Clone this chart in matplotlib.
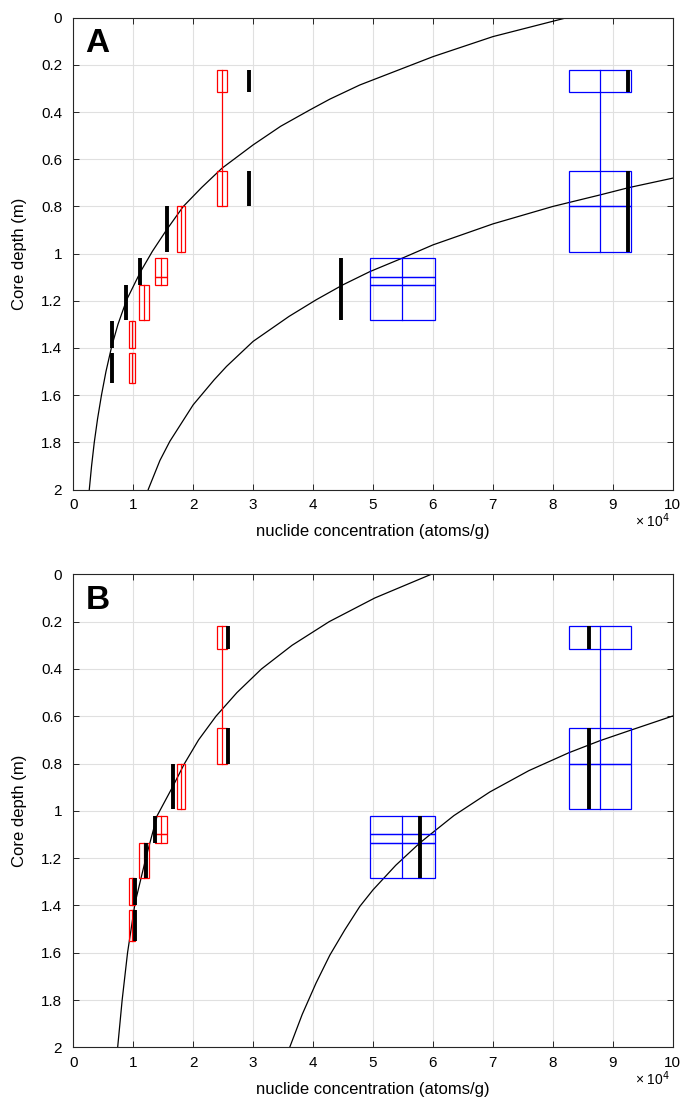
import matplotlib
matplotlib.use("Agg")
import matplotlib.pyplot as plt
from matplotlib.patches import Rectangle
import numpy as np

plt.rcParams['font.family'] = ['Liberation Sans', 'DejaVu Sans']

# sample depth intervals (m)
depth_top = [0.22, 0.65, 0.80, 1.02, 1.098, 1.135, 1.285, 1.42]
depth_bot = [0.315, 0.80, 0.993, 1.098, 1.135, 1.283, 1.40, 1.55]

# measured concentrations, individual samples (x 10^4 atoms/g)
meas_conc = [2.48, 2.48, 1.80, 1.467, 1.467, 1.183, 0.983, 0.983]
meas_err = [0.078, 0.078, 0.072, 0.10, 0.10, 0.083, 0.05, 0.05]
meas_group = [0, 0, 1, 2, 2, 3, 4, 5]

# amalgamated samples
amal_conc = [8.79, 8.79, 8.79, 5.49, 5.49, 5.49, np.nan, np.nan]
amal_err = [0.52, 0.52, 0.52, 0.54, 0.54, 0.54, np.nan, np.nan]
amal_group = [0, 0, 0, 1, 1, 1, -1, -1]

# modelled concentrations per panel
modA_meas = [2.93, 2.93, 1.557, 1.117, 1.117, 0.883, 0.645, 0.645]
modA_amal = [9.25, 9.25, 9.25, 4.46, 4.46, 4.46, np.nan, np.nan]
modB_meas = [2.58, 2.58, 1.657, 1.367, 1.367, 1.217, 1.03, 1.03]
modB_amal = [8.60, 8.60, 8.60, 5.78, 5.78, 5.78, np.nan, np.nan]

# model profiles (conc, depth)
curveA1_x = [8.23, 7.0, 6.0, 4.78, 4.28, 3.945, 3.46, 3.0, 2.48, 2.14, 1.835, 1.557, 1.32,
             1.123, 0.89, 0.745, 0.64, 0.545, 0.47, 0.405, 0.35, 0.305, 0.267]
curveA1_z = [0.0, 0.080, 0.165, 0.285, 0.345, 0.391, 0.46, 0.539, 0.638, 0.72, 0.80, 0.899, 0.99,
             1.076, 1.196, 1.30, 1.394, 1.50, 1.60, 1.70, 1.80, 1.90, 2.0]
curveA2_x = [10.0, 9.27, 8.79, 8.0, 7.0, 6.0, 5.49, 4.95, 4.50, 4.05, 3.60, 3.0, 2.557, 2.35, 2.0,
             1.61, 1.445, 1.25]
curveA2_z = [0.68, 0.72, 0.751, 0.80, 0.874, 0.963, 1.019, 1.076, 1.132, 1.196, 1.266, 1.372, 1.478,
             1.535, 1.641, 1.796, 1.877, 2.0]
curveB1_x = [5.97, 5.03, 4.27, 3.65, 3.14, 2.73, 2.38, 2.09, 1.855, 1.654, 1.40, 1.217, 1.03,
             0.905, 0.815, 0.74]
curveB1_z = [0.0, 0.1, 0.2, 0.3, 0.4, 0.5, 0.6, 0.7, 0.8, 0.9, 1.02, 1.193, 1.39, 1.60, 1.80, 2.0]
curveB2_x = [10.0, 9.31, 8.79, 8.27, 7.6, 6.95, 6.35, 5.95, 5.78, 5.38, 5.0, 4.78, 4.53, 4.28,
             4.05, 3.82, 3.61]
curveB2_z = [0.599, 0.658, 0.703, 0.754, 0.83, 0.92, 1.02, 1.101, 1.136, 1.23, 1.334, 1.404, 1.503,
             1.61, 1.728, 1.86, 2.0]

panels = [
    ("A", modA_meas, modA_amal, [(curveA1_x, curveA1_z), (curveA2_x, curveA2_z)]),
    ("B", modB_meas, modB_amal, [(curveB1_x, curveB1_z), (curveB2_x, curveB2_z)]),
]

fig = plt.figure(figsize=(6.85, 11.03), dpi=100)
rects = [[0.107, 0.5562, 0.875, 0.4277], [0.107, 0.0504, 0.875, 0.4289]]


def draw_boxes(ax, conc, err, group, color):
    for c, e, t, b in zip(conc, err, depth_top, depth_bot):
        if np.isnan(c):
            continue
        ax.add_patch(Rectangle((c - e, t), 2 * e, b - t, fill=False, ec=color, lw=0.9, zorder=3))
    # vertical line through each group of samples
    for g in sorted(set(group)):
        if g < 0:
            continue
        idx = [i for i, gg in enumerate(group) if gg == g]
        c = conc[idx[0]]
        ax.plot([c, c], [min(depth_top[i] for i in idx), max(depth_bot[i] for i in idx)],
                color=color, lw=0.9, zorder=3)


for (label, mod_meas, mod_amal, curves), r in zip(panels, rects):
    ax = fig.add_axes(r)
    for cx, cz in curves:
        ax.plot(cx, cz, color='k', lw=0.9, zorder=2)
    draw_boxes(ax, meas_conc, meas_err, meas_group, 'red')
    draw_boxes(ax, amal_conc, amal_err, amal_group, 'blue')
    for mod in (mod_meas, mod_amal):
        for x, t, b in zip(mod, depth_top, depth_bot):
            if np.isnan(x):
                continue
            ax.plot([x, x], [t, b], color='k', lw=2.8, solid_capstyle='butt', zorder=4)

    ax.set_xlim(0, 10)
    ax.set_ylim(2, 0)
    ax.set_xticks(range(0, 11))
    yt = np.round(np.arange(0, 2.01, 0.2), 1)
    ax.set_yticks(yt)
    ax.set_yticklabels([f"{v:g}" for v in yt])
    ax.grid(True, color='#e0e0e0', lw=0.8)
    ax.set_axisbelow(True)
    ax.tick_params(direction='in', top=True, right=True, length=4.5, width=0.7,
                   labelsize=11, color='#262626')
    ax.tick_params(axis='x', pad=6)
    ax.tick_params(axis='y', pad=8)
    for s in ax.spines.values():
        s.set_color('#262626')
        s.set_linewidth(0.8)
    ax.set_xlabel('nuclide concentration (atoms/g)', fontsize=12, labelpad=9)
    ax.set_ylabel('Core depth (m)', fontsize=12, labelpad=10)
    ax.text(0.995, -0.079, r'× 10$^4$', transform=ax.transAxes, ha='right', va='baseline', fontsize=10)
    ax.text(0.02, 0.927, label, transform=ax.transAxes, fontsize=24, fontweight='bold',
            ha='left', va='baseline')

fig.savefig('out.png', dpi=100)
